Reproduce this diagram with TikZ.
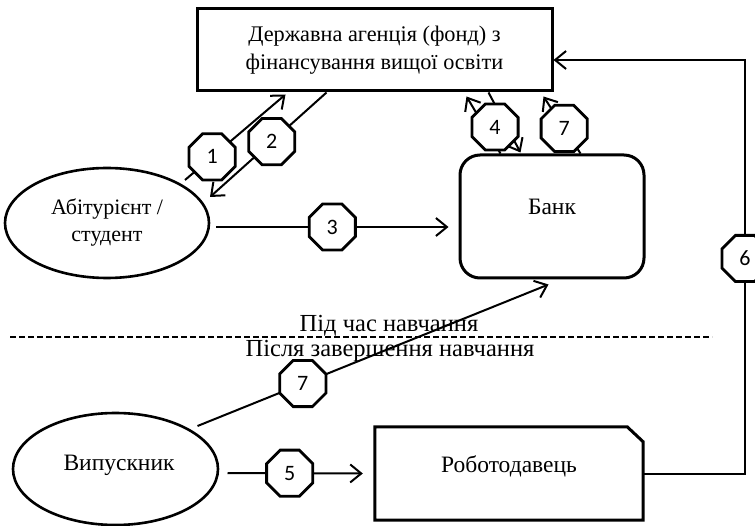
\documentclass[tikz,border=0pt]{standalone}
\usepackage{fontspec}
\setmainfont{Liberation Serif}
\newfontfamily\numfont{Carlito}
\usetikzlibrary{shapes.geometric,arrows.meta,calc}
\tikzset{
  lbl/.style={font=\fontsize{22}{27}\selectfont, align=center},
  lblb/.style={font=\fontsize{23.5}{28}\selectfont, align=center},
  lblc/.style={font=\fontsize{24.5}{28}\selectfont, align=center},
  boxnode/.style={draw, line width=3pt, inner sep=0pt},
  ellnode/.style={draw, ellipse, line width=2.6pt, inner sep=0pt},
  conn/.style={line width=2pt, -{Straight Barb[length=11pt,width=18pt,line width=2pt]}},
  num/.style={regular polygon, regular polygon sides=8, draw, fill=white, line width=2.8pt,
    minimum size=50pt, inner sep=0pt, font=\numfont\fontsize{22}{22}\selectfont}
}
\begin{document}
\begin{tikzpicture}[x=1pt,y=-1pt]
\useasboundingbox (0,0) rectangle (755,526);
% nodes
\node[boxnode, font=\fontsize{22.3}{28}\selectfont, align=center, minimum width=355pt, minimum height=82pt] (agency) at (374.5,50)
  {Державна агенція (фонд) з\\фінансування вищої освіти};
\node[ellnode, lbl, minimum width=204pt, minimum height=110pt] (student) at (107,223)
  {Абітурієнт /\\студент};
\node[boxnode, rounded corners=20pt, minimum width=184pt, minimum height=123pt] (bank) at (552,216.5) {};
\node[lblb] (banktxt) at (552,207) {Банк};
\node[ellnode, minimum width=205pt, minimum height=112pt] (grad) at (115.5,469) {};
\node[lblb] (gradtxt) at (119,465) {Випускник};
\node[inner sep=0pt, minimum width=268pt, minimum height=93pt] (emp) at (509,473.5) {};
\node[lblb] (emptxt) at (509,466) {Роботодавець};
\draw[line width=3pt, line join=miter]
  (emp.south west) -- (emp.north west) -- ($(emp.north east)+(-16,0)$)
  -- ($(emp.north east)+(0,15)$) -- (emp.south east) -- cycle;
% divider
\coordinate (dl) at (10,337);
\coordinate (dr) at (712,337);
\draw[line width=1.6pt, dash pattern=on 6pt off 3pt] (dl) -- (dr);
\node[lblc, anchor=base] (during) at (389,332) {Під час навчання};
\node[lblc, anchor=base] (after) at (390,357) {Після завершення навчання};
% connectors
\draw[conn] ($(student.center)+(78,-43)$) -- node[num, pos=0.27] {1} ($(agency.south west)+(90,2)$);
\draw[conn] ($(agency.south west)+(131,0)$) -- node[num, pos=0.47] {2} ($(student.center)+(103,-26)$);
\draw[conn] ($(student.center)+(109,4)$) -- node[num, pos=0.5] {3} ($(bank.west)+(-10,10.5)$);
\draw[conn] ($(bank.north west)+(42,0)$) -- ($(agency.south west)+(271,4)$);
\draw[conn] ($(agency.south west)+(293,0)$) -- ($(bank.north west)+(62,-1)$);
\node[num] (n4) at (495,127) {4};
\draw[conn] ($(bank.north west)+(122,0)$) -- node[num, pos=0.44] {7} ($(agency.south west)+(348,4)$);
\draw[conn] ($(grad.center)+(82,-43)$) -- node[num, pos=0.3] {7} ($(bank.south west)+(90,5)$);
\draw[conn] ($(grad.center)+(112,4)$) -- node[num, pos=0.46] {5} ($(emp.west)+(-12,0)$);
\coordinate (c6a) at (745,473.5);
\coordinate (c6b) at (745,60);
\draw[conn] (emp.east) -- (c6a) -- node[num, pos=0.52] {6} (c6b) -- ($(agency.east)+(0,10)$);
\end{tikzpicture}
\end{document}
